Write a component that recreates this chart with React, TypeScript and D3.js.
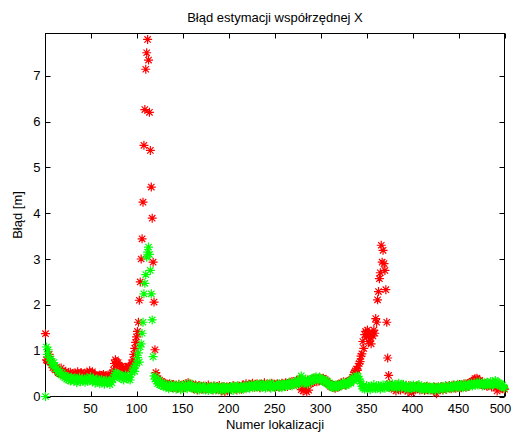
import React from "react";
import * as d3 from "d3";

// Red series (first estimator), indices 1..500 in blocks of 100
const redA = [
  1.37,0.80,0.78,0.86,0.92,0.81,0.74,0.70,0.63,0.68,
  0.60,0.58,0.64,0.55,0.52,0.57,0.50,0.62,0.54,0.48,
  0.52,0.47,0.55,0.49,0.45,0.51,0.46,0.53,0.48,0.44,
  0.50,0.47,0.52,0.45,0.49,0.54,0.47,0.43,0.50,0.52,
  0.46,0.49,0.44,0.51,0.48,0.53,0.47,0.50,0.56,0.52,
  0.49,0.54,0.46,0.43,0.48,0.41,0.45,0.40,0.44,0.47,
  0.42,0.46,0.43,0.48,0.44,0.41,0.46,0.43,0.47,0.42,
  0.45,0.48,0.44,0.50,0.58,0.72,0.80,0.76,0.70,0.74,
  0.68,0.65,0.62,0.66,0.60,0.63,0.58,0.64,0.61,0.57,
  0.62,0.66,0.60,0.68,0.72,0.80,0.92,1.05,1.18,1.30,
];
const redB = [
  1.42,1.62,2.10,2.50,3.00,3.44,4.24,5.48,6.26,7.14,
  7.50,7.79,7.34,6.20,5.37,4.57,3.89,2.93,2.06,1.02,
  0.52,0.45,0.38,0.34,0.36,0.31,0.33,0.28,0.30,0.26,
  0.29,0.24,0.27,0.22,0.25,0.28,0.21,0.24,0.19,0.26,
  0.23,0.20,0.25,0.18,0.22,0.27,0.21,0.17,0.24,0.20,
  0.26,0.22,0.19,0.28,0.23,0.30,0.25,0.21,0.27,0.24,
  0.20,0.17,0.22,0.25,0.19,0.14,0.21,0.24,0.18,0.22,
  0.16,0.20,0.23,0.19,0.15,0.22,0.18,0.25,0.20,0.17,
  0.21,0.19,0.14,0.23,0.18,0.20,0.16,0.22,0.19,0.24,
  0.17,0.12,0.20,0.15,0.22,0.10,0.18,0.21,0.16,0.19,
];
const redC = [
  0.22,0.18,0.15,0.20,0.24,0.17,0.21,0.19,0.14,0.23,
  0.20,0.18,0.22,0.16,0.25,0.21,0.19,0.23,0.28,0.20,
  0.24,0.27,0.21,0.25,0.22,0.29,0.24,0.20,0.26,0.23,
  0.28,0.22,0.25,0.19,0.27,0.24,0.21,0.26,0.30,0.23,
  0.25,0.28,0.22,0.26,0.20,0.24,0.29,0.23,0.27,0.21,
  0.25,0.22,0.28,0.24,0.20,0.26,0.23,0.29,0.25,0.27,
  0.24,0.30,0.26,0.22,0.28,0.25,0.31,0.27,0.33,0.29,
  0.26,0.32,0.28,0.35,0.30,0.27,0.38,0.33,0.15,0.29,
  0.12,0.34,0.18,0.30,0.10,0.36,0.14,0.32,0.28,0.35,
  0.30,0.37,0.33,0.40,0.36,0.32,0.38,0.34,0.42,0.36,
];
const redD = [
  0.39,0.35,0.40,0.33,0.37,0.31,0.34,0.29,0.27,0.25,
  0.22,0.26,0.20,0.24,0.21,0.18,0.23,0.20,0.26,0.22,
  0.27,0.24,0.30,0.26,0.32,0.28,0.25,0.31,0.29,0.33,
  0.30,0.35,0.32,0.38,0.42,0.48,0.52,0.56,0.60,0.57,
  0.66,0.72,0.76,0.88,0.93,1.20,1.05,1.35,1.42,1.30,
  1.45,1.20,1.38,1.28,1.15,1.40,1.32,1.45,1.38,1.70,
  1.62,2.11,2.29,2.57,2.70,3.30,2.93,3.19,2.90,2.75,
  2.33,1.62,0.84,0.46,0.28,0.22,0.18,0.24,0.20,0.16,
  0.22,0.12,0.19,0.25,0.17,0.21,0.14,0.23,0.19,0.26,
  0.20,0.15,0.22,0.18,0.11,0.24,0.19,0.16,0.08,0.21,
];
const redE = [
  0.18,0.22,0.15,0.20,0.17,0.23,0.19,0.14,0.21,0.18,
  0.16,0.20,0.13,0.19,0.22,0.17,0.15,0.21,0.18,0.14,
  0.19,0.16,0.12,0.20,0.17,0.06,0.18,0.21,0.15,0.19,
  0.22,0.17,0.14,0.20,0.18,0.23,0.16,0.21,0.19,0.24,
  0.20,0.17,0.23,0.19,0.25,0.21,0.18,0.24,0.20,0.22,
  0.26,0.21,0.19,0.25,0.22,0.28,0.24,0.20,0.27,0.23,
  0.29,0.25,0.31,0.27,0.33,0.30,0.36,0.39,0.34,0.40,
  0.36,0.32,0.35,0.29,0.26,0.31,0.27,0.24,0.28,0.25,
  0.22,0.27,0.24,0.29,0.25,0.21,0.28,0.23,0.26,0.30,
  0.24,0.12,0.27,0.22,0.25,0.18,0.21,0.17,0.19,0.16,
];

// Green series (second estimator)
const greenA = [
  0.00,1.08,0.92,1.02,0.85,0.78,0.82,0.72,0.68,0.74,
  0.65,0.60,0.62,0.55,0.58,0.50,0.53,0.47,0.51,0.44,
  0.46,0.41,0.45,0.38,0.43,0.36,0.40,0.34,0.42,0.37,
  0.39,0.33,0.41,0.36,0.30,0.38,0.35,0.42,0.32,0.37,
  0.40,0.34,0.38,0.31,0.36,0.41,0.33,0.39,0.35,0.43,
  0.37,0.32,0.40,0.35,0.29,0.34,0.38,0.31,0.36,0.28,
  0.33,0.37,0.30,0.35,0.27,0.32,0.36,0.29,0.34,0.31,
  0.26,0.33,0.30,0.38,0.42,0.47,0.52,0.45,0.50,0.43,
  0.48,0.41,0.46,0.39,0.44,0.36,0.42,0.47,0.40,0.45,
  0.38,0.43,0.36,0.48,0.52,0.58,0.62,0.55,0.68,0.72,
];
const greenB = [
  0.85,0.95,0.75,1.08,1.15,1.38,1.62,2.24,2.47,2.66,
  3.04,3.15,3.26,3.10,2.75,2.24,1.67,0.87,0.45,0.38,
  0.42,0.33,0.28,0.35,0.26,0.30,0.24,0.29,0.22,0.27,
  0.23,0.19,0.26,0.21,0.17,0.24,0.20,0.27,0.22,0.18,
  0.25,0.21,0.16,0.23,0.19,0.26,0.20,0.15,0.22,0.18,
  0.24,0.20,0.27,0.21,0.17,0.25,0.22,0.29,0.19,0.23,
  0.18,0.22,0.16,0.20,0.24,0.17,0.21,0.14,0.19,0.23,
  0.17,0.21,0.15,0.19,0.22,0.16,0.20,0.13,0.18,0.22,
  0.19,0.15,0.21,0.17,0.23,0.14,0.20,0.18,0.16,0.21,
  0.15,0.19,0.13,0.22,0.17,0.20,0.14,0.18,0.21,0.16,
];
const greenC = [
  0.19,0.22,0.16,0.20,0.13,0.23,0.18,0.21,0.17,0.24,
  0.19,0.15,0.22,0.18,0.21,0.16,0.24,0.20,0.17,0.23,
  0.20,0.25,0.18,0.22,0.26,0.19,0.23,0.27,0.21,0.24,
  0.20,0.26,0.22,0.28,0.19,0.25,0.21,0.27,0.23,0.18,
  0.24,0.20,0.27,0.22,0.29,0.18,0.25,0.21,0.26,0.23,
  0.19,0.26,0.22,0.24,0.28,0.21,0.25,0.19,0.27,0.23,
  0.26,0.22,0.29,0.24,0.27,0.31,0.25,0.28,0.23,0.30,
  0.27,0.33,0.29,0.26,0.32,0.36,0.28,0.34,0.45,0.30,
  0.35,0.29,0.33,0.38,0.31,0.27,0.36,0.32,0.37,0.34,
  0.39,0.35,0.41,0.37,0.43,0.38,0.40,0.36,0.42,0.39,
];
const greenD = [
  0.35,0.38,0.33,0.36,0.31,0.34,0.28,0.32,0.26,0.29,
  0.24,0.21,0.27,0.19,0.23,0.20,0.25,0.22,0.26,0.21,
  0.25,0.28,0.23,0.27,0.30,0.26,0.29,0.24,0.31,0.27,
  0.30,0.34,0.29,0.36,0.40,0.35,0.42,0.38,0.45,0.41,
  0.44,0.37,0.33,0.28,0.22,0.18,0.21,0.16,0.20,0.24,
  0.17,0.22,0.19,0.15,0.23,0.18,0.21,0.26,0.19,0.17,
  0.22,0.18,0.24,0.20,0.16,0.23,0.19,0.25,0.21,0.18,
  0.24,0.20,0.27,0.22,0.19,0.25,0.21,0.28,0.23,0.20,
  0.26,0.22,0.18,0.24,0.29,0.21,0.25,0.19,0.23,0.27,
  0.22,0.18,0.25,0.20,0.16,0.23,0.19,0.24,0.17,0.21,
];
const greenE = [
  0.25,0.19,0.22,0.17,0.24,0.20,0.26,0.18,0.21,0.16,
  0.20,0.17,0.22,0.15,0.19,0.23,0.18,0.14,0.21,0.17,
  0.19,0.15,0.22,0.18,0.13,0.20,0.17,0.21,0.16,0.19,
  0.22,0.18,0.15,0.21,0.19,0.24,0.17,0.20,0.23,0.18,
  0.22,0.19,0.25,0.21,0.18,0.24,0.20,0.23,0.27,0.21,
  0.24,0.20,0.26,0.22,0.19,0.25,0.23,0.28,0.21,0.24,
  0.27,0.22,0.25,0.29,0.23,0.26,0.30,0.24,0.27,0.31,
  0.25,0.28,0.32,0.26,0.29,0.23,0.27,0.30,0.25,0.28,
  0.31,0.26,0.29,0.24,0.33,0.27,0.30,0.25,0.28,0.35,
  0.29,0.32,0.26,0.30,0.24,0.27,0.22,0.25,0.20,0.18,
];

const xTicks = [50, 100, 150, 200, 250, 300, 350, 400, 450, 500];
const yTicks = [0, 1, 2, 3, 4, 5, 6, 7];
const titleText = "Błąd estymacji współrzędnej X";
const xLabelText = "Numer lokalizacji";
const yLabelText = "Błąd [m]";

const W = 513;
const H = 432;
const L = 45.5, R = 504.5, T = 33.5, B = 396.5;
const FONT = "'Liberation Sans', Arial, Helvetica, sans-serif";

export default function App() {
  const red = [...redA, ...redB, ...redC, ...redD, ...redE];
  const green = [...greenA, ...greenB, ...greenC, ...greenD, ...greenE];
  const x = d3.scaleLinear().domain([1, 500]).range([L, R]);
  const y = d3.scaleLinear().domain([0, 7.92]).range([B, T]);

  const starPath = (vals: number[]) => {
    const p = d3.path();
    vals.forEach((v, i) => {
      const cx = x(i + 1);
      const cy = y(v);
      p.moveTo(cx - 4.5, cy); p.lineTo(cx + 4.5, cy);
      p.moveTo(cx, cy - 4.5); p.lineTo(cx, cy + 4.5);
      p.moveTo(cx - 3.2, cy - 3.2); p.lineTo(cx + 3.2, cy + 3.2);
      p.moveTo(cx - 3.2, cy + 3.2); p.lineTo(cx + 3.2, cy - 3.2);
    });
    return p.toString();
  };

  const tickLen = 5;
  return (
    <svg width={W} height={H} style={{ position: "absolute", left: 0, top: 0, background: "#fff" }}>
      <rect x={0} y={0} width={W} height={H} fill="#fff" />
      <rect x={L} y={T} width={R - L} height={B - T} fill="#fff" stroke="#000" strokeWidth={1} />
      {xTicks.map((t) => (
        <g key={"xt" + t}>
          <line x1={Math.round(x(t)) + 0.5} x2={Math.round(x(t)) + 0.5} y1={B} y2={B - tickLen} stroke="#000" />
          <line x1={Math.round(x(t)) + 0.5} x2={Math.round(x(t)) + 0.5} y1={T} y2={T + tickLen} stroke="#000" />
          <text x={Math.min(x(t), 512 - 11.5)} y={B + 16} fontSize={13} fontFamily={FONT} textAnchor="middle" fill="#000">{t}</text>
        </g>
      ))}
      {yTicks.map((t) => (
        <g key={"yt" + t}>
          <line x1={L} x2={L + tickLen} y1={Math.round(y(t)) + 0.5} y2={Math.round(y(t)) + 0.5} stroke="#000" />
          <line x1={R} x2={R - tickLen} y1={Math.round(y(t)) + 0.5} y2={Math.round(y(t)) + 0.5} stroke="#000" />
          <text x={L - 5} y={y(t) + 4.5} fontSize={13} fontFamily={FONT} textAnchor="end" fill="#000">{t}</text>
        </g>
      ))}
      <path d={starPath(red)} stroke="#ff0000" strokeWidth={1.2} fill="none" />
      <path d={starPath(green)} stroke="#00ff00" strokeWidth={1.2} fill="none" />
      <text x={(L + R) / 2} y={22} fontSize={13} fontFamily={FONT} textAnchor="middle" fill="#000">{titleText}</text>
      <text x={(L + R) / 2} y={429} fontSize={13} fontFamily={FONT} textAnchor="middle" fill="#000">{xLabelText}</text>
      <text transform={`translate(22,${(T + B) / 2}) rotate(-90)`} fontSize={13} fontFamily={FONT} textAnchor="middle" fill="#000">{yLabelText}</text>
    </svg>
  );
}
